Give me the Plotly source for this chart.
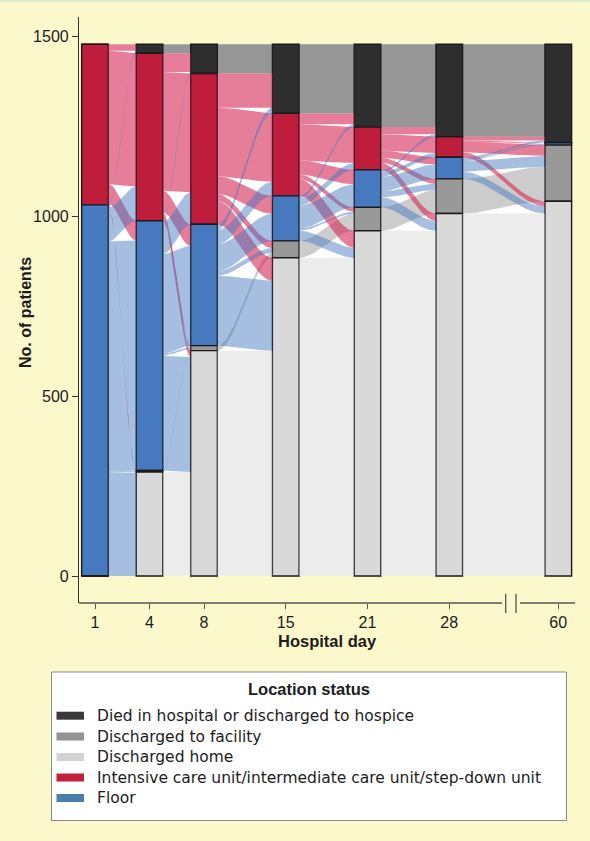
import numpy as np
import plotly.graph_objects as go

# ---------------- data ----------------
day_labels = ["1", "4", "8", "15", "21", "28", "60"]
day_positions = [0, 1, 2, 3.5, 5, 6.5, 8.5]   # axis break between 28 and 60

# state keys, stacked top -> bottom
state_keys = ["D", "I", "F", "X", "H"]
state_names = {
    "D": "Died in hospital or discharged to hospice",
    "X": "Discharged to facility",
    "H": "Discharged home",
    "I": "Intensive care unit/intermediate care unit/step-down unit",
    "F": "Floor",
}
legend_order = ["D", "X", "H", "I", "F"]

# transitions between consecutive days: rows = from (D, I, F, X, H), cols = to (D, I, F, X, H)
trans_d1_d4 = [
    [0, 0, 0, 0, 0],
    [18, 370, 55, 1, 2],
    [7, 95, 639, 3, 287],
    [0, 0, 0, 0, 0],
    [0, 0, 0, 0, 0],
]
trans_d4_d8 = [
    [25, 0, 0, 0, 0],
    [52, 330, 60, 5, 18],
    [4, 89, 277, 5, 319],
    [0, 0, 0, 4, 0],
    [0, 0, 0, 0, 289],
]
trans_d8_d15 = [
    [81, 0, 0, 0, 0],
    [95, 190, 50, 20, 64],
    [16, 39, 75, 13, 194],
    [0, 0, 0, 14, 0],
    [0, 0, 0, 0, 626],
]
trans_d15_d21 = [
    [192, 0, 0, 0, 0],
    [30, 100, 40, 12, 47],
    [8, 19, 64, 6, 28],
    [0, 0, 0, 47, 0],
    [0, 0, 0, 0, 884],
]
trans_d21_d28 = [
    [230, 0, 0, 0, 0],
    [20, 45, 20, 14, 20],
    [7, 12, 40, 17, 28],
    [0, 0, 0, 65, 0],
    [0, 0, 0, 0, 959],
]
trans_d28_d60 = [
    [257, 0, 0, 0, 0],
    [10, 1, 2, 30, 14],
    [6, 0, 4, 30, 20],
    [0, 0, 0, 96, 0],
    [0, 0, 0, 0, 1007],
]
transitions = [trans_d1_d4, trans_d4_d8, trans_d8_d15, trans_d15_d21, trans_d21_d28, trans_d28_d60]

# ---------------- styles ----------------
bar_colors = {"D": "#2e2e2e", "X": "#999999", "H": "#d9d9d9", "I": "#be1e3c", "F": "#4679be"}
legend_colors = {"D": "#3a3a3a", "X": "#929292", "H": "#d2d2d2", "I": "#c0203a", "F": "#4a7ea8"}
flow_colors = {
    "D": "rgba(46,46,46,0.5)",
    "X": "rgba(153,153,153,0.5)",
    "H": "rgba(217,217,217,0.5)",
    "I": "rgba(215,40,85,0.6)",
    "F": "rgba(70,121,190,0.48)",
}
BG = "#fbf8cc"
FONT = "Liberation Sans, Arial, sans-serif"
LFONT = "DejaVu Sans, Liberation Sans, sans-serif"
TXT = "#1c1c1c"
HW = 0.245  # half bar width in axis units

# ---------------- counts per day (derived from transitions) ----------------
T = [np.array(t, dtype=float) for t in transitions]
counts = [T[0].sum(axis=1)] + [t.sum(axis=0) for t in T]
total = counts[0].sum()


def strata_tops(c):
    """top y of each state's segment (stack top -> bottom)."""
    tops = {}
    y = c.sum()
    for i, k in enumerate(state_keys):
        tops[k] = y
        y -= c[i]
    return tops


fig = go.Figure()

# white panel behind flows
shapes = []
for k in range(len(T)):
    shapes.append(dict(type="rect", xref="x", yref="y", layer="below",
                       x0=day_positions[k] + HW, x1=day_positions[k + 1] - HW,
                       y0=0, y1=total, fillcolor="white", line=dict(width=0)))

# flows
tt = np.linspace(0, 1, 40)
sig = 3 * tt ** 2 - 2 * tt ** 3
draw_order = ["H", "X", "D", "I", "F"]
for k, M in enumerate(T):
    x0 = day_positions[k] + HW
    x1 = day_positions[k + 1] - HW
    xs = x0 + (x1 - x0) * tt
    src_tops = strata_tops(counts[k])
    dst_tops = strata_tops(counts[k + 1])
    src_pos = {}
    for i, a in enumerate(state_keys):
        y = src_tops[a]
        for j, b in enumerate(state_keys):
            src_pos[(a, b)] = y
            y -= M[i, j]
    dst_pos = {}
    for j, b in enumerate(state_keys):
        y = dst_tops[b]
        for i, a in enumerate(state_keys):
            dst_pos[(a, b)] = y
            y -= M[i, j]
    for a in draw_order:
        i = state_keys.index(a)
        for j, b in enumerate(state_keys):
            n = M[i, j]
            if n <= 0:
                continue
            ys0, yd0 = src_pos[(a, b)], dst_pos[(a, b)]
            top = ys0 + (yd0 - ys0) * sig
            bot = (ys0 - n) + ((yd0 - n) - (ys0 - n)) * sig
            px = np.concatenate([xs, xs[::-1]])
            py = np.concatenate([top, bot[::-1]])
            fig.add_trace(go.Scatter(x=px, y=py, mode="lines", fill="toself",
                                     fillcolor=flow_colors[a], line=dict(width=0),
                                     hoverinfo="skip", showlegend=False))

# bars (stacked strata)
for idx, key in enumerate(state_keys):
    vals, bases = [], []
    for c in counts:
        tops = strata_tops(c)
        vals.append(c[idx])
        bases.append(tops[key] - c[idx])
    fig.add_trace(go.Bar(x=day_positions, y=vals, base=bases, width=2 * HW,
                         marker=dict(color=bar_colors[key], line=dict(color="#1a1a1a", width=1.4)),
                         name=state_names[key], showlegend=False, hoverinfo="skip"))

# ---------------- axes ----------------
L, R, TOP, BOT = 79, 575, 17, 603
W, H = 590, 841
px_per_unit = 54.5
xmin = (L - 95) / px_per_unit
xmax = (R - 95) / px_per_unit
py_per = 0.36
ymax = (576 - TOP) / py_per
ymin = (576 - BOT) / py_per

fig.update_layout(
    width=W, height=H,
    margin=dict(l=L, r=W - R, t=TOP, b=H - BOT, pad=0),
    paper_bgcolor=BG, plot_bgcolor=BG,
    barmode="overlay", showlegend=False,
    font=dict(family=FONT, color=TXT, size=16),
    xaxis=dict(range=[xmin, xmax], showgrid=False, zeroline=False, showline=False,
               tickmode="array", tickvals=day_positions, ticktext=day_labels,
               ticks="outside", ticklen=5, tickwidth=1.2, tickcolor="#555",
               tickfont=dict(size=16, color=TXT, family=FONT)),
    yaxis=dict(range=[ymin, ymax], showgrid=False, zeroline=False, showline=True,
               linecolor="#333", linewidth=1.2, mirror=False,
               tickmode="array", tickvals=[0, 500, 1000, 1500],
               ticks="outside", ticklen=6, tickwidth=1.2, tickcolor="#333",
               tickfont=dict(size=16, color=TXT, family=FONT)),
)


def pxx(p):
    return (p - 95) / px_per_unit


axc = "#555"
shapes += [
    dict(type="line", xref="x", yref="paper", x0=xmin, x1=pxx(502), y0=0, y1=0,
         line=dict(color=axc, width=1.5)),
    dict(type="line", xref="x", yref="paper", x0=pxx(520), x1=xmax, y0=0, y1=0,
         line=dict(color=axc, width=1.5)),
    dict(type="line", xref="x", yref="paper", x0=pxx(505.7), x1=pxx(505.7),
         y0=(BOT - 594) / (BOT - TOP), y1=(BOT - 613) / (BOT - TOP), line=dict(color=axc, width=1.3)),
    dict(type="line", xref="x", yref="paper", x0=pxx(516), x1=pxx(516),
         y0=(BOT - 594) / (BOT - TOP), y1=(BOT - 613) / (BOT - TOP), line=dict(color=axc, width=1.3)),
]

# thin top border of the figure
shapes.append(dict(type="line", xref="paper", yref="paper", x0=-1, x1=2,
                   y0=(BOT - 0.8) / (BOT - TOP), y1=(BOT - 0.8) / (BOT - TOP),
                   line=dict(color="#d7ebd3", width=2)))


def pxp(x):
    return (x - L) / (R - L)


def pyp(y):
    return (BOT - y) / (BOT - TOP)


annotations = [
    dict(text="<b>Hospital day</b>", xref="paper", yref="paper", x=pxp(327.8), y=pyp(641),
         showarrow=False, font=dict(size=16.5, color=TXT, family=FONT), xanchor="center", yanchor="middle"),
    dict(text="<b>No. of patients</b>", xref="paper", yref="paper", x=pxp(25), y=pyp(313),
         showarrow=False, textangle=-90, font=dict(size=16, color=TXT, family=FONT),
         xanchor="center", yanchor="middle"),
]

# legend box (manual)
shapes.append(dict(type="rect", xref="paper", yref="paper", x0=pxp(51.5), x1=pxp(566.5),
                   y0=pyp(672), y1=pyp(820.5), fillcolor="white", line=dict(color="#8a8a8a", width=1)))
annotations.append(dict(text="<b>Location status</b>", xref="paper", yref="paper",
                        x=pxp(308.5), y=pyp(689), showarrow=False, xanchor="center", yanchor="middle",
                        font=dict(size=16.5, color=TXT, family=FONT)))
row_y = [715.7, 736.5, 757, 777.5, 798]
for key, ry in zip(legend_order, row_y):
    shapes.append(dict(type="rect", xref="paper", yref="paper", x0=pxp(56.5), x1=pxp(84),
                       y0=pyp(ry - 4), y1=pyp(ry + 4), fillcolor=legend_colors[key], line=dict(width=0)))
    annotations.append(dict(text=state_names[key], xref="paper", yref="paper", x=pxp(95), y=pyp(ry),
                            showarrow=False, xanchor="left", yanchor="middle",
                            font=dict(size=15.5, color=TXT, family=LFONT)))

fig.update_layout(shapes=shapes, annotations=annotations)
fig.write_html("out.html", config={"displayModeBar": False},
               post_script="document.body.style.margin='0px';document.body.style.padding='0px';"
                           "document.body.style.overflow='hidden';")
